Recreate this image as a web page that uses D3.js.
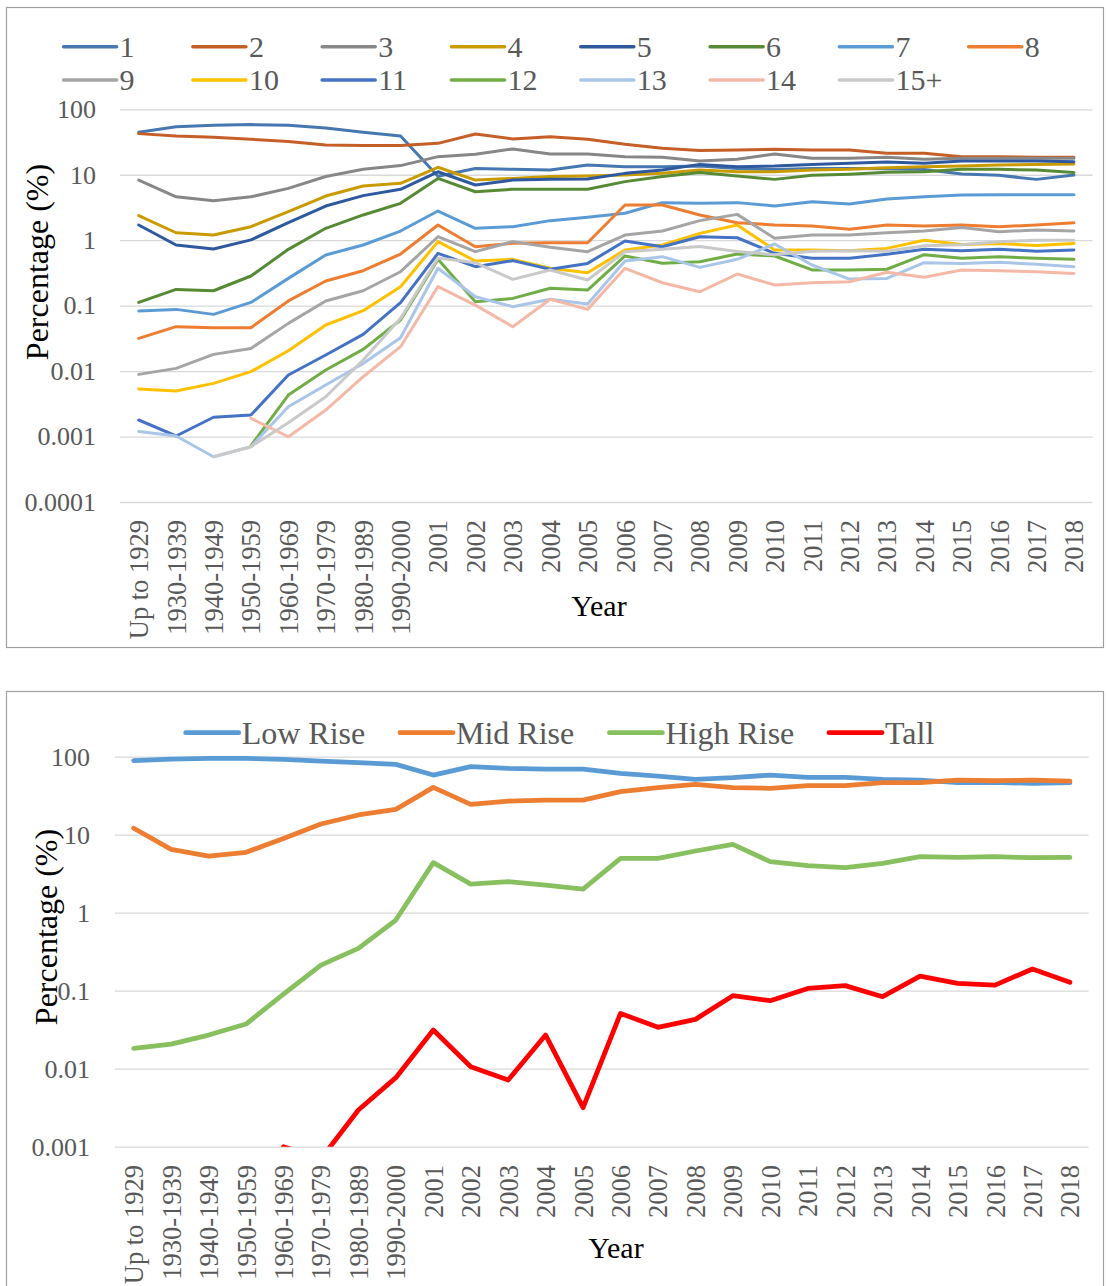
<!DOCTYPE html>
<html>
<head>
<meta charset="utf-8">
<script src="https://cdn.jsdelivr.net/npm/d3@7"></script>
<style>
  html, body { margin: 0; padding: 0; background: #fff; }
  svg { display: block; }
  svg text { font-family: "Liberation Serif", "Times New Roman", serif; }
</style>
</head>
<body>
<svg id="chart" width="1107" height="1286"></svg>
<script>
// ---- shared categories -------------------------------------------------
const categories = ["Up to 1929", "1930-1939", "1940-1949", "1950-1959", "1960-1969",
  "1970-1979", "1980-1989", "1990-2000", "2001", "2002", "2003", "2004", "2005",
  "2006", "2007", "2008", "2009", "2010", "2011", "2012", "2013", "2014", "2015",
  "2016", "2017", "2018"];

// ---- panel 1: share of buildings by number of storeys (%) ----------------
const storeyNames = ["1", "2", "3", "4", "5", "6", "7", "8", "9", "10", "11", "12", "13", "14", "15+"];
const storeyColors = ["#4677b0", "#c55f27", "#878787", "#c99b00", "#2f599f", "#568a34",
  "#5b9bd5", "#ed7d31", "#a5a5a5", "#ffc000", "#4472c4", "#70ad47", "#a9c5e8", "#f4b9a6", "#c9c9c9"];

const s1 = [44.5, 54.3, 56.9, 58.4, 56.9, 51.9, 44.5, 39.1, 9.5, 12.5, 12.1, 11.8, 14.1, 13.3, 13.3, 13.6, 12.5, 12, 12.5, 12.5, 12.3, 12, 10.3, 9.8, 8.5, 9.9];
const s2 = [42.5, 39.1, 37.3, 34.8, 32.1, 28.5, 27.9, 27.9, 30.2, 42, 35.2, 38.2, 34.8, 29.2, 25.3, 23.4, 23.9, 24.5, 23.9, 23.9, 21.3, 21.3, 18.9, 18.9, 18.5, 18.5];
const s3 = [8.3, 4.6, 4.0, 4.6, 6.2, 9.4, 12.1, 13.8, 18.9, 20.5, 24.8, 20.8, 20.8, 18.9, 18.5, 16.2, 17.2, 20.8, 17.8, 17.8, 18.5, 17.2, 17.8, 17.8, 17.8, 17.8];
const s4 = [2.37, 1.30, 1.20, 1.61, 2.73, 4.73, 6.73, 7.39, 13.0, 8.3, 8.8, 9.4, 9.6, 9.9, 10.5, 11.8, 11.1, 11.1, 11.8, 12.1, 12.8, 13.3, 13.6, 14.1, 14.4, 14.6];
const s5 = [1.71, 0.845, 0.734, 1.01, 1.85, 3.33, 4.80, 5.99, 11.1, 6.98, 8.3, 8.5, 8.6, 10.5, 11.8, 14.4, 13.3, 13.6, 14.4, 15.0, 15.7, 15.0, 16.2, 16.2, 16.2, 15.8];
const s6 = [0.112, 0.177, 0.169, 0.284, 0.725, 1.52, 2.43, 3.66, 8.8, 5.5, 6.0, 6.0, 6.0, 7.85, 9.4, 10.8, 9.6, 8.5, 9.8, 10.2, 10.9, 11.1, 12.1, 12.1, 11.8, 10.8];
const s7 = [0.0828, 0.0877, 0.0736, 0.112, 0.261, 0.594, 0.845, 1.38, 2.79, 1.52, 1.61, 1.99, 2.24, 2.58, 3.75, 3.66, 3.75, 3.33, 3.88, 3.57, 4.26, 4.62, 4.91, 4.96, 4.96, 4.96];
const s8 = [0.0316, 0.0477, 0.0461, 0.0461, 0.118, 0.238, 0.342, 0.615, 1.71, 0.796, 0.895, 0.916, 0.916, 3.45, 3.45, 2.43, 1.85, 1.71, 1.65, 1.47, 1.71, 1.65, 1.71, 1.61, 1.71, 1.85];
const s9 = [0.00891, 0.0110, 0.0180, 0.0222, 0.0536, 0.118, 0.169, 0.330, 1.13, 0.668, 0.951, 0.778, 0.668, 1.20, 1.38, 1.99, 2.48, 1.07, 1.20, 1.20, 1.30, 1.38, 1.56, 1.35, 1.43, 1.38];
const s10 = [0.00532, 0.00496, 0.00650, 0.00980, 0.0205, 0.0506, 0.0838, 0.195, 0.951, 0.481, 0.510, 0.372, 0.319, 0.708, 0.845, 1.27, 1.71, 0.708, 0.708, 0.69, 0.75, 1.0, 0.86, 0.89, 0.83, 0.89];
const s11 = [0.00179, 0.00102, 0.00197, 0.00213, 0.00871, 0.0176, 0.0364, 0.111, 0.630, 0.394, 0.487, 0.359, 0.442, 0.973, 0.796, 1.13, 1.09, 0.63, 0.528, 0.528, 0.61, 0.725, 0.69, 0.73, 0.68, 0.71];
const s12 = [null, null, null, 0.000724, 0.00431, 0.0104, 0.0215, 0.0603, 0.510, 0.115, 0.129, 0.184, 0.173, 0.574, 0.443, 0.470, 0.615, 0.574, 0.351, 0.351, 0.36, 0.60, 0.528, 0.56, 0.528, 0.51];
const s13 = [0.00119, 0.00102, 0.000492, 0.000700, 0.00286, 0.00612, 0.0131, 0.0324, 0.372, 0.137, 0.0964, 0.125, 0.106, 0.481, 0.560, 0.384, 0.510, 0.875, 0.418, 0.255, 0.26, 0.454, 0.44, 0.46, 0.43, 0.394];
const s14 = [null, null, null, 0.00190, 0.000993, 0.00254, 0.00820, 0.0236, 0.195, 0.102, 0.0477, 0.125, 0.0877, 0.372, 0.224, 0.163, 0.304, 0.207, 0.224, 0.232, 0.323, 0.271, 0.351, 0.34, 0.330, 0.31];
const s15 = [null, null, 0.000492, 0.000700, 0.00163, 0.00406, 0.0148, 0.0640, 0.535, 0.454, 0.252, 0.351, 0.247, 0.668, 0.73, 0.80, 0.67, 0.60, 0.68, 0.69, 0.68, 0.825, 0.85, 0.95, 1.0, 1.0];
const storeySeries = [s1, s2, s3, s4, s5, s6, s7, s8, s9, s10, s11, s12, s13, s14, s15];

// ---- panel 2: share of buildings by height class (%) --------------------
const classNames = ["Low Rise", "Mid Rise", "High Rise", "Tall"];
const classColors = ["#5b9bd5", "#ed7d31", "#88bf5f", "#ff0000"];
const lowRise = [88.9, 93.3, 95.2, 95.2, 92.4, 88.0, 83.8, 79.8, 58.2, 74.5, 70.9, 69.5, 69.5, 61.1, 56.5, 51.2, 53.8, 58.2, 54.3, 54.3, 51.2, 50.2, 46.4, 46.9, 45.5, 46.4];
const midRise = [12.1, 6.5, 5.33, 5.94, 8.97, 13.7, 17.9, 21.1, 40.5, 24.5, 27.0, 27.8, 27.8, 35.6, 40.1, 44.2, 40.1, 39.3, 42.5, 42.5, 46.4, 46.4, 50.2, 49.2, 50.2, 48.7];
const highRise = [0.0182, 0.0207, 0.0270, 0.0374, 0.0906, 0.213, 0.349, 0.805, 4.38, 2.33, 2.50, 2.26, 2.01, 4.98, 4.98, 6.18, 7.52, 4.51, 4.01, 3.78, 4.29, 5.22, 5.12, 5.22, 5.07, 5.12];
const tall = [null, null, null, null, 0.001, 0.0007, 0.00295, 0.00767, 0.0313, 0.0106, 0.00716, 0.0270, 0.00316, 0.0512, 0.0339, 0.0429, 0.0863, 0.0745, 0.107, 0.116, 0.0838, 0.154, 0.124, 0.118, 0.190, 0.128];
const classSeries = [lowRise, midRise, highRise, tall];

// ---- axis tick labels ----------------------------------------------------
const ticksTop = [100, 10, 1, 0.1, 0.01, 0.001, 0.0001];
const tickLabelsTop = ["100", "10", "1", "0.1", "0.01", "0.001", "0.0001"];
const ticksBottom = [100, 10, 1, 0.1, 0.01, 0.001];
const tickLabelsBottom = ["100", "10", "1", "0.1", "0.01", "0.001"];

const svg = d3.select("#chart");
const SERIF = "'Liberation Serif', 'Times New Roman', serif";
const TICK_COLOR = "#595959";
const GRID_COLOR = "#d9d9d9";

function drawPanel(cfg) {
  const g = svg.append("g");

  // panel frame
  g.append("rect")
    .attr("x", cfg.frame[0]).attr("y", cfg.frame[1])
    .attr("width", cfg.frame[2]).attr("height", cfg.frame[3])
    .attr("fill", "#fff").attr("stroke", "#a0a0a0").attr("stroke-width", 1.2);

  const x = d3.scalePoint().domain(categories).range([cfg.left, cfg.right]).padding(0.5);
  const y = d3.scaleLog().domain(cfg.yDomain).range([cfg.bottom, cfg.top]);

  // horizontal gridlines + y tick labels via axis
  const yAxis = d3.axisLeft(y)
    .tickValues(cfg.ticks)
    .tickFormat((d, i) => cfg.tickLabels[i])
    .tickSize(-(cfg.right - cfg.left))
    .tickPadding(cfg.tickPad);
  const ya = g.append("g").attr("transform", `translate(${cfg.left},0)`).call(yAxis);
  ya.select(".domain").remove();
  ya.selectAll(".tick line").attr("stroke", GRID_COLOR).attr("stroke-width", 1.3);
  ya.selectAll(".tick text")
    .style("font-family", SERIF).style("font-size", "26px")
    .attr("fill", TICK_COLOR);

  // category labels, rotated
  const xAxis = d3.axisBottom(x).tickSize(0).tickPadding(0);
  const xa = g.append("g").attr("transform", `translate(0,${cfg.catTop})`).call(xAxis);
  xa.select(".domain").remove();
  xa.selectAll(".tick text")
    .style("font-family", SERIF).style("font-size", "26.5px")
    .attr("fill", TICK_COLOR)
    .attr("text-anchor", "end")
    .attr("transform", "rotate(-90)")
    .attr("x", 0).attr("y", 0).attr("dy", "0.34em");

  // clip to plot area
  const clipId = cfg.id + "-clip";
  g.append("clipPath").attr("id", clipId).append("rect")
    .attr("x", cfg.left).attr("y", cfg.top - 10)
    .attr("width", cfg.right - cfg.left).attr("height", cfg.bottom - cfg.top + 10);

  const line = d3.line()
    .defined(d => d != null)
    .x((d, i) => x(categories[i]))
    .y(d => y(d));

  const lines = g.append("g").attr("clip-path", `url(#${clipId})`);
  cfg.series.forEach((vals, k) => {
    lines.append("path")
      .datum(vals)
      .attr("d", line)
      .attr("fill", "none")
      .attr("stroke", cfg.colors[k])
      .attr("stroke-width", cfg.lineWidth)
      .attr("stroke-linejoin", "round")
      .attr("stroke-linecap", "round");
  });

  // legend
  const lg = g.append("g");
  cfg.names.forEach((name, k) => {
    const [lx, ly] = cfg.legendPos(k);
    lg.append("line")
      .attr("x1", lx).attr("x2", lx + cfg.legendLine)
      .attr("y1", ly).attr("y2", ly)
      .attr("stroke", cfg.colors[k]).attr("stroke-width", cfg.legendWidth)
      .attr("stroke-linecap", "round");
    lg.append("text")
      .attr("x", lx + cfg.legendLine + 3).attr("y", ly)
      .attr("dy", "0.34em")
      .style("font-family", SERIF).style("font-size", cfg.legendFont + "px")
      .attr("fill", TICK_COLOR)
      .text(name);
  });

  // axis titles
  g.append("text")
    .attr("transform", `translate(${cfg.yTitle[0]},${cfg.yTitle[1]}) rotate(-90)`)
    .attr("text-anchor", "middle")
    .style("font-family", SERIF).style("font-size", "32px")
    .attr("fill", "#000")
    .text("Percentage (%)");
  g.append("text")
    .attr("x", cfg.xTitle[0]).attr("y", cfg.xTitle[1])
    .attr("text-anchor", "middle")
    .style("font-family", SERIF).style("font-size", "30px")
    .attr("fill", "#000")
    .text("Year");
}

drawPanel({
  id: "storeys",
  frame: [6.5, 7.5, 1097, 640],
  left: 120, right: 1092.6, top: 109.3, bottom: 502,
  yDomain: [0.0001, 100], ticks: ticksTop, tickLabels: tickLabelsTop, tickPad: 24,
  catTop: 520,
  series: storeySeries, colors: storeyColors, names: storeyNames,
  lineWidth: 3,
  legendPos: k => [63.6 + (k % 8) * 129.3, 46.7 + Math.floor(k / 8) * 33.3],
  legendLine: 53, legendWidth: 3.6, legendFont: 30,
  yTitle: [48, 262], xTitle: [599, 616]
});

drawPanel({
  id: "classes",
  frame: [6.5, 691.5, 1097, 620],
  left: 115, right: 1088.6, top: 756.7, bottom: 1146.7,
  yDomain: [0.001, 100], ticks: ticksBottom, tickLabels: tickLabelsBottom, tickPad: 25,
  catTop: 1165,
  series: classSeries, colors: classColors, names: classNames,
  lineWidth: 4.8,
  legendPos: k => [[185.7, 400, 609.4, 829][k], 732.7],
  legendLine: 53, legendWidth: 4.8, legendFont: 32,
  yTitle: [57, 927], xTitle: [616, 1258]
});
</script>
</body>
</html>
